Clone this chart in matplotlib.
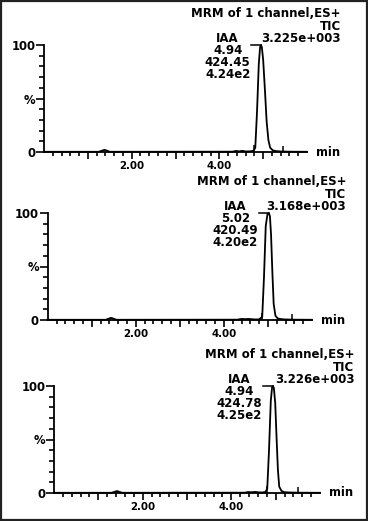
import matplotlib
matplotlib.use("Agg")
import matplotlib.pyplot as plt
from matplotlib.patches import Rectangle

# ---------------- data ----------------
title_line1 = "MRM of 1 channel,ES+"
title_line2 = "TIC"
max_intensity = ["3.225e+003", "3.168e+003", "3.226e+003"]
compound = "IAA"
peak_rt = ["4.94", "5.02", "4.94"]
peak_area = ["424.45", "420.49", "424.78"]
peak_height = ["4.24e2", "4.20e2", "4.25e2"]
apex_time = [4.95, 5.02, 4.94]

time1 = [0.0, 1.25, 1.32, 1.38, 1.44, 1.50, 4.30, 4.38, 4.45, 4.52, 4.60, 4.70,
         4.78, 4.82, 4.86, 4.90, 4.93, 4.95, 4.97, 5.00, 5.04, 5.08, 5.12, 5.16,
         5.22, 5.30, 5.40, 5.60, 6.0]
signal1 = [0.2, 0.2, 1.2, 2.0, 1.2, 0.2, 0.3, 1.0, 0.6, 1.1, 0.5, 0.6,
           1.2, 4.0, 38, 82, 98, 100, 98, 86, 58, 28, 11, 4.0,
           1.5, 0.8, 0.5, 0.3, 0.2]

time2 = [0.0, 1.32, 1.38, 1.44, 1.50, 1.56, 4.30, 4.40, 4.48, 4.56, 4.64, 4.72,
         4.80, 4.87, 4.91, 4.95, 4.99, 5.02, 5.045, 5.07, 5.10, 5.13, 5.17,
         5.22, 5.30, 5.40, 5.60, 6.0]
signal2 = [0.2, 0.2, 1.2, 2.0, 1.2, 0.2, 0.3, 1.0, 0.8, 1.0, 0.7, 0.5,
           0.6, 3.0, 40, 88, 99, 100, 97, 80, 45, 15, 4.0,
           1.5, 0.8, 0.5, 0.3, 0.2]

time3 = [0.0, 1.30, 1.36, 1.42, 1.48, 1.54, 4.30, 4.38, 4.46, 4.54, 4.62, 4.70,
         4.77, 4.81, 4.85, 4.89, 4.92, 4.94, 4.96, 4.99, 5.02, 5.05, 5.08,
         5.13, 5.19, 5.30, 5.50, 6.0]
signal3 = [0.2, 0.2, 1.0, 1.8, 1.0, 0.2, 0.3, 0.9, 0.7, 1.0, 0.6, 0.5,
           1.0, 4.0, 40, 86, 99, 100, 98, 84, 52, 22, 6.0,
           2.0, 0.8, 0.5, 0.3, 0.2]

marker_times = [[4.80, 5.45], [4.86, 5.54], [4.80, 5.50]]
marker_heights = [[7, 6], [7, 6], [7, 6]]

x_major = [1, 2, 3, 4, 5]
x_major_labels = ["", "2.00", "", "4.00", ""]
x_minor = [0.2, 0.4, 0.6, 0.8, 1.2, 1.4, 1.6, 1.8, 2.2, 2.4, 2.6, 2.8,
           3.2, 3.4, 3.6, 3.8, 4.2, 4.4, 4.6, 4.8, 5.2, 5.4, 5.6, 5.8]
y_major = [0, 50, 100]
y_major_labels = ["0", "%", "100"]
y_minor = [10, 20, 30, 40, 60, 70, 80, 90]

times = [time1, time2, time3]
signals = [signal1, signal2, signal3]

# ---------------- layout ----------------
W, H = 368, 521
fig = plt.figure(figsize=(W / 100, H / 100), dpi=100)
fig.patch.set_facecolor("white")

# axes boxes in pixels: left, right, top(100%), bottom(0%)
boxes = [(44, 307, 45, 152), (47.7, 312, 213, 320), (54, 320, 386, 493)]

FONT = "DejaVu Sans"
LW = 1.3
for i, (l, r, t, b) in enumerate(boxes):
    ax = fig.add_axes([l / W, 1 - b / H, (r - l) / W, (b - t) / H])
    ax.set_facecolor("none")
    ax.set_xlim(0, 6.0)
    ax.set_ylim(0, 100)
    for s in ("top", "right"):
        ax.spines[s].set_visible(False)
    for s in ("left", "bottom"):
        ax.spines[s].set_linewidth(1.3)
        ax.spines[s].set_color("black")

    ax.plot(times[i], signals[i], color="black", lw=LW, clip_on=False,
            solid_joinstyle="round")
    ax.vlines(marker_times[i], 0, marker_heights[i], color="black", lw=1.1)

    # leader line to apex
    ax.plot([apex_time[i] - 0.23, apex_time[i]], [100, 100], color="black",
            lw=1.1, clip_on=False)

    ax.set_xticks(x_major)
    ax.set_xticklabels(x_major_labels)
    ax.set_xticks(x_minor, minor=True)
    ax.set_yticks(y_major)
    ax.set_yticklabels(y_major_labels)
    ax.set_yticks(y_minor, minor=True)
    ax.tick_params(axis="x", which="major", direction="out", length=5, width=1.2,
                   pad=1.5, labelsize=7.4)
    ax.tick_params(axis="x", which="minor", direction="out", length=3, width=1.2)
    ax.tick_params(axis="y", which="major", direction="out", length=6, width=1.2,
                   pad=0.3, labelsize=8.4)
    ax.tick_params(axis="y", which="minor", direction="out", length=3.3, width=1.2)
    for lab in ax.get_xticklabels() + ax.get_yticklabels():
        lab.set_fontweight("bold")
        lab.set_family(FONT)

    ax.text(6.2, 0, "min", ha="left", va="center", fontsize=8.4,
            fontweight="bold", family=FONT, clip_on=False)

    xr = 6.0 + 34 / 44
    ax.text(xr, 129.0, title_line1, ha="right", va="center", fontsize=8.5,
            fontweight="bold", family=FONT, clip_on=False)
    ax.text(xr, 117.5, title_line2, ha="right", va="center", fontsize=8.5,
            fontweight="bold", family=FONT, clip_on=False)
    ax.text(xr, 106.0, max_intensity[i], ha="right", va="center", fontsize=8.5,
            fontweight="bold", family=FONT, clip_on=False)

    xc = apex_time[i] - 0.76
    for yv, txt in zip([106.0, 94.5, 83.5, 72.5],
                       [compound, peak_rt[i], peak_area[i], peak_height[i]]):
        ax.text(xc, yv, txt, ha="center", va="center", fontsize=8.5,
                fontweight="bold", family=FONT, clip_on=False)

# outer frame
fig.patches.append(Rectangle((1 / W, 1 / H), (W - 2) / W, (H - 2) / H,
                             transform=fig.transFigure, fill=False,
                             edgecolor="#222222", lw=1.6))

fig.savefig("out.png", dpi=100)
